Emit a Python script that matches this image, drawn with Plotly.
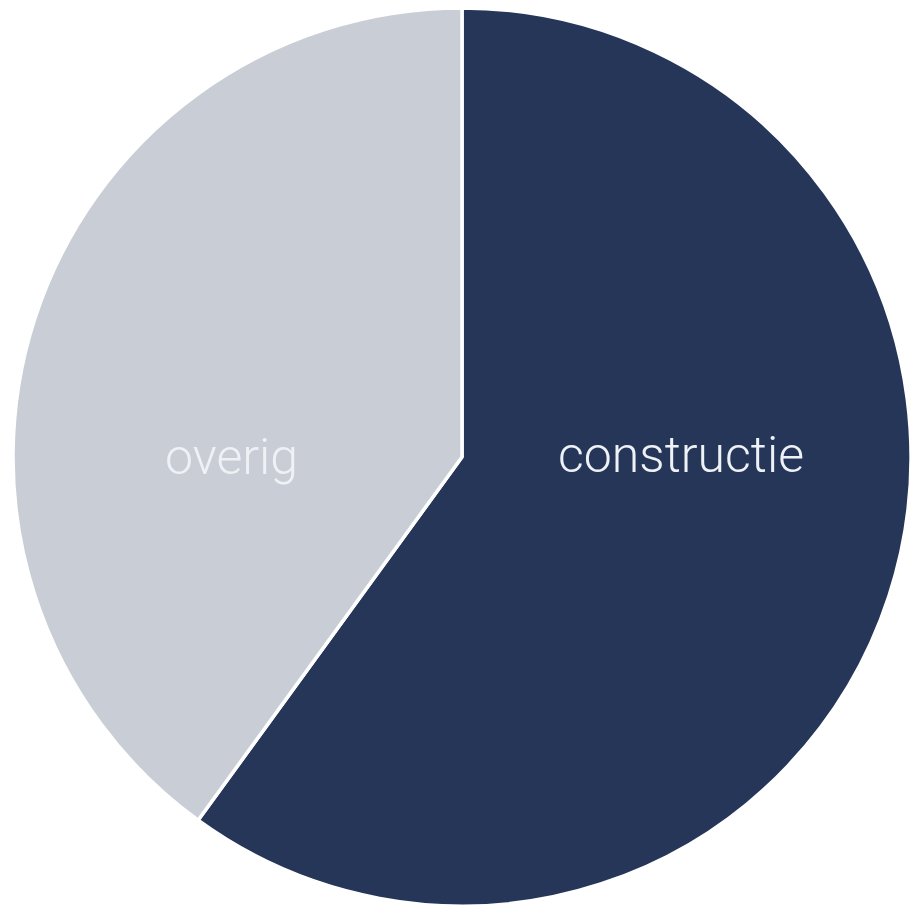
import plotly.graph_objects as go

labels = ["constructie", "overig"]
values = [60, 40]
colors = ["#253659", "#C9CED6"]
label_pos = [(0.729, 0.508), (0.242, 0.505)]

W, H = 923, 908
fig = go.Figure(go.Pie(
    labels=labels,
    values=values,
    sort=False,
    direction="clockwise",
    rotation=0,
    marker=dict(colors=colors, line=dict(color="white", width=3.5)),
    textinfo="none",
    hoverinfo="label+percent",
    showlegend=False,
    domain=dict(x=[4 / W, 904 / W], y=[1 - 898 / H, 1.0]),
))
for lab, (px, py) in zip(labels, label_pos):
    fig.add_annotation(
        x=px, y=py, xref="paper", yref="paper",
        text=lab, showarrow=False,
        xanchor="center", yanchor="middle",
        font=dict(family="Roboto, Liberation Sans, sans-serif", size=50,
                  color="#EEF1F5", weight=300),
    )
fig.update_layout(
    width=W, height=H,
    margin=dict(l=0, r=0, t=0, b=0),
    paper_bgcolor="white",
    plot_bgcolor="white",
)
fig.write_html("out.html")
